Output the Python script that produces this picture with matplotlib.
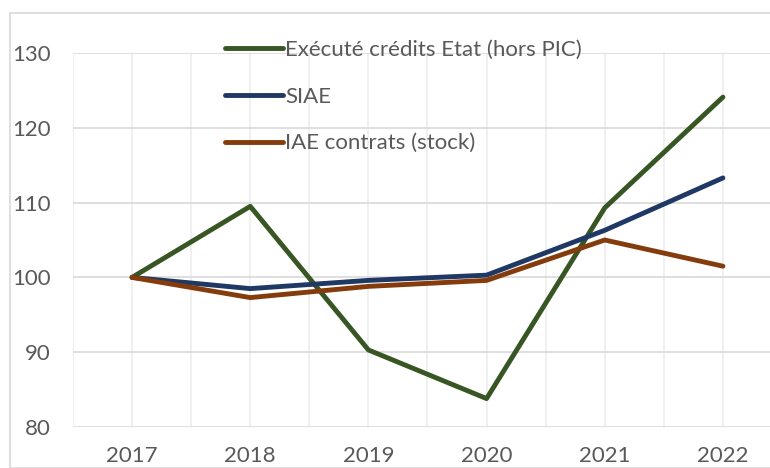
import matplotlib.pyplot as plt
from matplotlib.patches import Rectangle

years = ["2017", "2018", "2019", "2020", "2021", "2022"]
execute_credits = [100, 109.5, 90.3, 83.8, 109.3, 124.1]
siae = [100, 98.5, 99.6, 100.3, 106.3, 113.3]
iae_contrats = [100, 97.3, 98.8, 99.6, 105.0, 101.5]

labels = ["Exécuté crédits Etat (hors PIC)", "SIAE", "IAE contrats (stock)"]
colors = ["#375623", "#1f3864", "#843c0c"]

plt.rcParams['font.family'] = ['Lato', 'DejaVu Sans']

fig = plt.figure(figsize=(7.7, 4.68), dpi=100)
W, H = 770, 468
ax = fig.add_axes([73 / W, 1 - 427 / H, (782 - 73) / W, (427 - 53) / H])

x = list(range(len(years)))
for series, lab, col in zip([execute_credits, siae, iae_contrats], labels, colors):
    ax.plot(x, series, color=col, linewidth=3.5, label=lab,
            solid_capstyle='round', solid_joinstyle='round', zorder=3)

ax.set_xlim(-0.5, 5.5)
ax.set_ylim(80, 130)
ax.set_yticks(range(80, 131, 10))
ax.set_xticks(x)
ax.set_xticklabels(years)
ax.set_xticks([i - 0.5 for i in range(7)], minor=True)

ax.grid(axis='y', color='#d9d9d9', linewidth=1.2, zorder=0)
ax.grid(axis='x', which='both', color='#eeeeee', linewidth=1.2, zorder=0)
ax.tick_params(axis='both', which='both', length=0, labelsize=16,
               labelcolor='#595959')
ax.tick_params(axis='y', pad=16)
ax.tick_params(axis='x', pad=14)
for s in ax.spines.values():
    s.set_visible(False)

ax.legend(loc='upper left', bbox_to_anchor=(225 / W, 1 - 40 / H),
          bbox_transform=fig.transFigure, frameon=False, fontsize=16,
          labelcolor='#595959', handlelength=2.6, handletextpad=0.12,
          labelspacing=1.2, borderaxespad=0, borderpad=0)

# outer chart border
fig.patches.append(Rectangle((10 / W, 0), 1.2, 1 - 13 / H, transform=fig.transFigure,
                             fill=False, edgecolor='#d9d9d9', linewidth=1.2))

fig.savefig("out.png", dpi=100)
